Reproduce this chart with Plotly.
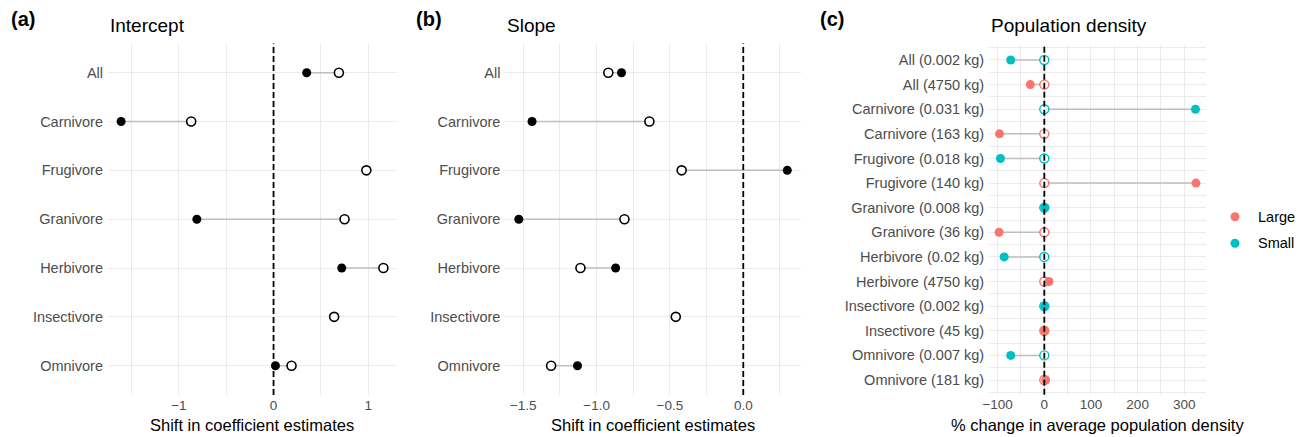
import plotly.graph_objects as go

# ---------------- data ----------------
guilds = ["All", "Carnivore", "Frugivore", "Granivore", "Herbivore", "Insectivore", "Omnivore"]
intercept_filled = [0.35, -1.61, None, -0.81, 0.72, None, 0.02]
intercept_open = [0.69, -0.87, 0.98, 0.75, 1.16, 0.64, 0.19]
slope_filled = [-0.83, -1.44, 0.30, -1.53, -0.87, None, -1.13]
slope_open = [-0.92, -0.64, -0.42, -0.81, -1.11, -0.46, -1.31]

density_labels = ["All (0.002 kg)", "All (4750 kg)", "Carnivore (0.031 kg)", "Carnivore (163 kg)",
                  "Frugivore (0.018 kg)", "Frugivore (140 kg)", "Granivore (0.008 kg)", "Granivore (36 kg)",
                  "Herbivore (0.02 kg)", "Herbivore (4750 kg)", "Insectivore (0.002 kg)", "Insectivore (45 kg)",
                  "Omnivore (0.007 kg)", "Omnivore (181 kg)"]
density_size = ["Small", "Large", "Small", "Large", "Small", "Large", "Small", "Large",
                "Small", "Large", "Small", "Large", "Small", "Large"]
density_change = [-72, -30, 324, -96, -94, 325, 1, -97, -86, 10, 1, 0.5, -72, 3]
density_baseline = [0] * 14

legend_groups = ["Large", "Small"]
size_colors = {"Large": "#F8766D", "Small": "#00BFC4"}

# ---------------- layout helpers ----------------
W, H = 1304, 437
FONT = "Liberation Sans, Arial, Helvetica, sans-serif"
GRID = "#EBEBEB"
TICKC = "#4D4D4D"
SEG = "#BEBEBE"


def px_x(p):
    return p / W


def px_y(p):
    return 1 - p / H


def expand(vals):
    v = [x for x in vals if x is not None]
    lo, hi = min(v), max(v)
    d = (hi - lo) * 0.05
    return [lo - d, hi + d]


fig = go.Figure()


def segments(a, b, ys):
    xs, yy = [], []
    for x1, x2, y in zip(a, b, ys):
        if x1 is None or x2 is None:
            continue
        xs += [x1, x2, None]
        yy += [y, y, None]
    return xs, yy


# panel a / b
for idx, (filled, opened) in enumerate([(intercept_filled, intercept_open), (slope_filled, slope_open)]):
    xa = "x" if idx == 0 else "x2"
    ya = "y" if idx == 0 else "y2"
    ys = list(range(len(guilds)))
    sx, sy = segments(filled, opened, ys)
    fig.add_trace(go.Scatter(x=sx, y=sy, mode="lines", line=dict(color=SEG, width=1.5),
                             xaxis=xa, yaxis=ya, showlegend=False, hoverinfo="skip"))
    fig.add_trace(go.Scatter(x=opened, y=ys, mode="markers",
                             marker=dict(size=9, color="white", line=dict(color="black", width=1.6)),
                             xaxis=xa, yaxis=ya, showlegend=False))
    fig.add_trace(go.Scatter(x=filled, y=ys, mode="markers",
                             marker=dict(size=9, color="black", line=dict(width=0)),
                             xaxis=xa, yaxis=ya, showlegend=False))

# panel c
ys_c = list(range(len(density_labels)))
sx, sy = segments(density_baseline, density_change, ys_c)
fig.add_trace(go.Scatter(x=sx, y=sy, mode="lines", line=dict(color=SEG, width=1.5),
                         xaxis="x3", yaxis="y3", showlegend=False, hoverinfo="skip"))
for grp in legend_groups:
    gx0 = [b for b, g in zip(density_baseline, density_size) if g == grp]
    gy = [y for y, g in zip(ys_c, density_size) if g == grp]
    fig.add_trace(go.Scatter(x=gx0, y=gy, mode="markers",
                             marker=dict(size=9, color="white", line=dict(color=size_colors[grp], width=1.4)),
                             xaxis="x3", yaxis="y3", showlegend=False))
for grp in legend_groups:
    gx = [v for v, g in zip(density_change, density_size) if g == grp]
    gy = [y for y, g in zip(ys_c, density_size) if g == grp]
    fig.add_trace(go.Scatter(x=gx, y=gy, mode="markers", name=grp,
                             marker=dict(size=9, color=size_colors[grp], line=dict(width=0)),
                             xaxis="x3", yaxis="y3", showlegend=False))

# legend (drawn on its own small hidden axis)
fig.add_trace(go.Scatter(x=[0] * len(legend_groups), y=list(range(len(legend_groups))), mode="markers",
                         marker=dict(size=9, color=[size_colors[g] for g in legend_groups], line=dict(width=0)),
                         xaxis="x4", yaxis="y4", showlegend=False, hoverinfo="skip", cliponaxis=False))
for i, g in enumerate(legend_groups):
    fig.add_annotation(text=g, x=0, y=i, xref="x4", yref="y4", xshift=21, xanchor="left",
                       yanchor="middle", showarrow=False,
                       font=dict(size=14.5, color="black", family=FONT))

# axes
panels = [
    dict(xl=108, xr=396.5, yt=43.4, yb=395, rng=expand(intercept_filled + intercept_open),
         dtick=1, minor=0.5, fmt="d", cats=guilds, yminor=False),
    dict(xl=505.4, xr=800.7, yt=43.4, yb=395, rng=expand(slope_filled + slope_open),
         dtick=0.5, minor=0.25, fmt=".1f", cats=guilds, yminor=False),
    dict(xl=989.2, xr=1205.8, yt=45.2, yb=394.8, rng=expand(density_change + density_baseline),
         dtick=100, minor=50, fmt="d", cats=density_labels, yminor=True),
]

for i, p in enumerate(panels):
    sfx = "" if i == 0 else str(i + 1)
    n = len(p["cats"])
    fig.update_layout(**{
        "xaxis" + sfx: dict(
            domain=[px_x(p["xl"]), px_x(p["xr"])], anchor="y" + sfx, range=p["rng"],
            tick0=0, dtick=p["dtick"], tickformat=p["fmt"], showgrid=True, gridcolor=GRID, gridwidth=1.1,
            zeroline=False, showline=False, ticks="", tickfont=dict(size=13.5, color=TICKC, family=FONT),
            minor=dict(tick0=0, dtick=p["minor"], showgrid=True, gridcolor=GRID, gridwidth=1.1),
            fixedrange=True, automargin=False,
        ),
        "yaxis" + sfx: dict(
            domain=[px_y(p["yb"]), px_y(p["yt"])], anchor="x" + sfx,
            range=[n - 1 + 0.6, -0.6], tickmode="array", tickvals=list(range(n)), ticktext=p["cats"],
            showgrid=True, gridcolor=GRID, gridwidth=1.1, zeroline=False, showline=False, ticks="",
            tickfont=dict(size=14.5, color=TICKC, family=FONT), ticklabelstandoff=4,
            minor=dict(tickmode="array", tickvals=[k + 0.5 for k in range(-1, n)], showgrid=p["yminor"],
                       gridcolor=GRID, gridwidth=1.1),
            fixedrange=True, automargin=False,
        ),
    })
    fig.add_shape(type="line", xref="x" + sfx, yref="y" + sfx + " domain", x0=0, x1=0, y0=0, y1=1,
                  line=dict(color="black", width=1.8, dash="6px,3px"), layer="above")

# legend axis: rows 26.6 px apart, centred at y=230, marker at x=1235
fig.update_layout(
    xaxis4=dict(domain=[px_x(1225), px_x(1245)], anchor="y4", range=[-1, 1], visible=False, fixedrange=True),
    yaxis4=dict(domain=[px_y(230 + 26.6), px_y(230 - 26.6)], anchor="x4", range=[1.5, -0.5],
                visible=False, fixedrange=True),
)

# titles and tags
tags = [("(a)", 9, "Intercept", 108), ("(b)", 414, "Slope", 505), ("(c)", 818, "Population density", 989)]
for tag, tx, title, ttx in tags:
    fig.add_annotation(text="<b>%s</b>" % tag, x=px_x(tx), y=px_y(19), xref="paper", yref="paper",
                       xanchor="left", yanchor="middle", showarrow=False,
                       font=dict(size=20, color="black", family=FONT))
    fig.add_annotation(text=title, x=px_x(ttx), y=px_y(25), xref="paper", yref="paper",
                       xanchor="left", yanchor="middle", showarrow=False,
                       font=dict(size=19, color="black", family=FONT))

xtitles = [("Shift in coefficient estimates", 252.3), ("Shift in coefficient estimates", 653),
           ("% change in average population density", 1097.5)]
for t, cx in xtitles:
    fig.add_annotation(text=t, x=px_x(cx), y=px_y(425), xref="paper", yref="paper",
                       xanchor="center", yanchor="middle", showarrow=False,
                       font=dict(size=16.5, color="black", family=FONT))

fig.update_layout(
    width=W, height=H, margin=dict(l=0, r=0, t=0, b=0, autoexpand=False),
    paper_bgcolor="white", plot_bgcolor="white",
    font=dict(family=FONT),
    showlegend=False,
)

fig.write_html("out.html", post_script="document.body.style.margin='0';",
               config={"displayModeBar": False})
